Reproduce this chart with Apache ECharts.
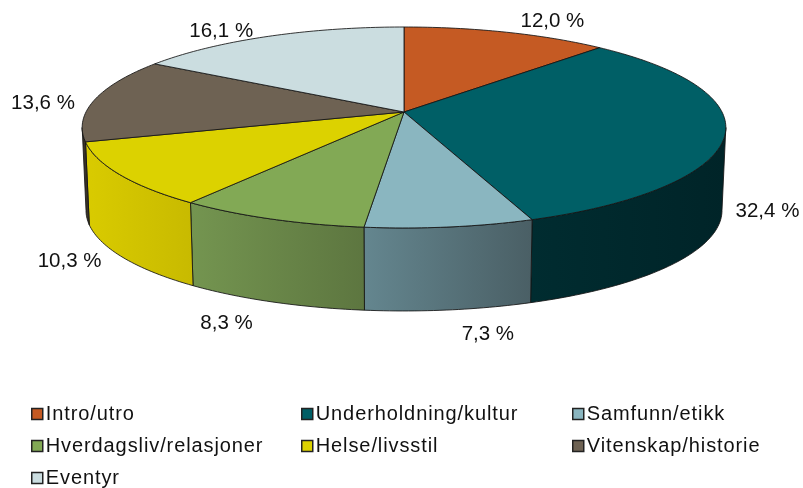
<!DOCTYPE html>
<html><head><meta charset="utf-8">
<style>html,body{margin:0;padding:0;background:#fff}#c{width:803px;height:488px}</style>
<script src="https://cdn.jsdelivr.net/npm/echarts@6/dist/echarts.min.js"></script>
</head><body><div id="c"></div>
<script>
const categories = ["Intro/utro","Underholdning/kultur","Samfunn/etikk","Hverdagsliv/relasjoner","Helse/livsstil","Vitenskap/historie","Eventyr"];
const shares = [12.0,32.4,7.3,8.3,10.3,13.6,16.1];
const shareLabels = ["12,0 %","32,4 %","7,3 %","8,3 %","10,3 %","13,6 %","16,1 %"];

// styles and layout
const topColors = ["#C55A23","#005F66","#8AB6C0","#82A955","#DCD200","#6E6253","#CBDDE0"];
const wallFrom  = ["#9A4519","#002C30","#64868F","#749550","#D9CB00","#3A3228","#9FB0B3"];
const wallTo    = ["#9A4519","#002428","#4A5F65","#5D7640","#C8BA00","#3A3228","#9FB0B3"];
const labelOffsets = [[46,-10.5],[42,79.5],[38,107.5],[-44,104.5],[-50,86.5],[-52,3.5],[-47,-5.5]];
const CX=404, CY=112, A=318, B=98.1, K=0.154, DEPTH=83, SHRINK=0.988;
const OUTLINE='rgba(20,20,20,0.85)';
const FONT='"Liberation Sans", Arial, sans-serif';

// The reference's legend text is set slightly loose; zrender has no tracking option.
const nativeFillText=CanvasRenderingContext2D.prototype.fillText;
CanvasRenderingContext2D.prototype.fillText=function(){
  this.letterSpacing=this.font.includes('20px')?'0.9px':'0px';
  return nativeFillText.apply(this,arguments);
};

// The rim's horizontal extremes bound the part of the side wall that faces the viewer.
const FRONT_START=Math.acos(-K)/(2*Math.PI), FRONT_END=1-FRONT_START;

function project(frac, lower){
  const t=frac*2*Math.PI, u=Math.sin(t), v=Math.cos(t), w=1+K*v;
  const s=lower?SHRINK:1;
  return [CX+s*A*u/w, CY-B*v/w+(lower?DEPTH:0)];
}
function arc(f0,f1,lower){
  const n=Math.max(4,Math.ceil((f1-f0)*360)), pts=[];
  for(let i=0;i<=n;i++) pts.push(project(f0+(f1-f0)*i/n,lower));
  return pts;
}
const total=shares.reduce((a,b)=>a+b,0);
const starts=[]; shares.reduce((acc,s,i)=>{starts[i]=acc;return acc+s;},0);

function makeRender(i){
  return function(params,api){
    const f0=starts[i]/total, f1=f0+api.value(0)/total, mid=(f0+f1)/2;
    const anchor=project(mid,false);
    const children=[
      {type:'polygon',z2:50,shape:{points:[[CX,CY]].concat(arc(f0,f1,false))},
       style:{fill:topColors[i],stroke:OUTLINE,lineWidth:1,lineJoin:'round'}},
      {type:'text',z2:60,x:anchor[0]+labelOffsets[i][0],y:anchor[1]+labelOffsets[i][1],
       style:{text:shareLabels[i],fill:'#111',font:'20.5px '+FONT,align:'center',verticalAlign:'middle'}}
    ];
    const w0=Math.max(f0,FRONT_START), w1=Math.min(f1,FRONT_END);
    if(w1>w0){
      const wall=arc(w0,w1,false).concat(arc(w0,w1,true).reverse());
      const xs=wall.map(p=>p[0]);
      children.unshift({type:'polygon',z2:20,shape:{points:wall},
        style:{fill:new echarts.graphic.LinearGradient(Math.min(...xs),0,Math.max(...xs),0,
                 [{offset:0,color:wallFrom[i]},{offset:1,color:wallTo[i]}],true),
               stroke:OUTLINE,lineWidth:1}});
    }
    return {type:'group',children};
  };
}
const series=categories.map((name,i)=>({
  type:'custom',name,coordinateSystem:'none',silent:true,animation:false,
  itemStyle:{color:topColors[i]},data:[[shares[i]]],renderItem:makeRender(i),clip:false
}));
function legendCol(idx,left){
  return {orient:'vertical',left,top:404,padding:0,itemGap:12,itemWidth:11,itemHeight:11,icon:'rect',
    selectedMode:false,
    textStyle:{fontFamily:FONT,fontSize:20,color:'#111',padding:[0,0,0,-2]},
    data:idx.map(i=>({name:categories[i],itemStyle:{color:topColors[i],borderColor:'#222',borderWidth:1.5}}))};
}
const chart=echarts.init(document.getElementById('c'),null,{renderer:'canvas'});
chart.setOption({backgroundColor:'#fff',animation:false,
  legend:[legendCol([0,3,6],31),legendCol([1,4],301),legendCol([2,5],572)],
  series});
</script></body></html>
